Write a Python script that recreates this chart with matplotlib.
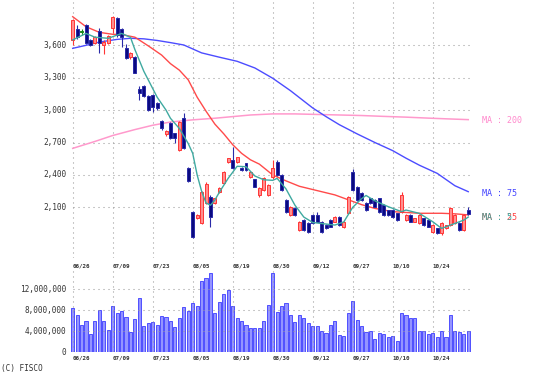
import matplotlib
matplotlib.use('Agg')
import matplotlib.pyplot as plt
import matplotlib.transforms as mtransforms

# daily OHLC, 06/26 .. early Nov (90 sessions)
opens = [3650, 3750, 3725, 3790, 3650, 3620, 3735, 3600, 3625, 3760,
         3850, 3750, 3575, 3495, 3490, 3195, 3220, 3130, 3140, 3065,
         2895, 2780, 2880, 2785, 2630, 2925, 2460, 2060, 2000, 1955,
         2140, 2200, 2140, 2242, 2322, 2522, 2538, 2522, 2461, 2507,
         2383, 2359, 2214, 2260, 2214, 2383, 2522, 2399, 2168, 2029,
         2091, 1890, 1982, 1951, 2029, 2029, 1967, 1936, 1982, 1967,
         2013, 1920, 2044, 2430, 2291, 2230, 2137, 2183, 2168, 2183,
         2121, 2075, 2075, 2044, 2059, 1982, 2029, 1967, 1951, 1998,
         1982, 1874, 1905, 1859, 1905, 1936, 1951, 1951, 1890, 2075]
highs = [3845, 3790, 3750, 3800, 3660, 3690, 3760, 3645, 3700, 3875,
         3860, 3760, 3615, 3540, 3500, 3225, 3230, 3140, 3150, 3075,
         2910, 2815, 2890, 2790, 2900, 2970, 2470, 2070, 2035, 2250,
         2330, 2210, 2190, 2290, 2440, 2560, 2661, 2570, 2470, 2515,
         2440, 2365, 2285, 2380, 2315, 2538, 2535, 2410, 2175, 2115,
         2100, 1975, 1990, 1960, 2040, 2060, 1975, 1945, 1990, 2020,
         2020, 1975, 2205, 2455, 2300, 2240, 2145, 2190, 2175, 2190,
         2130, 2080, 2085, 2050, 2240, 2035, 2035, 2005, 2035, 2005,
         1990, 1945, 1910, 1960, 1940, 2100, 2035, 1960, 2035, 2100]
lows = [3600, 3655, 3700, 3610, 3590, 3610, 3530, 3520, 3615, 3710,
        3680, 3585, 3470, 3470, 3340, 3095, 3120, 2990, 2980, 3000,
        2820, 2765, 2730, 2695, 2620, 2640, 2330, 1820, 1990, 1950,
        2130, 1920, 2130, 2235, 2315, 2515, 2455, 2515, 2440, 2440,
        2375, 2285, 2200, 2250, 2205, 2360, 2390, 2250, 2050, 2020,
        2020, 1880, 1880, 1865, 1945, 1960, 1865, 1900, 1915, 1960,
        1930, 1910, 2035, 2255, 2160, 2160, 2070, 2130, 2100, 2050,
        2020, 2020, 2005, 1975, 2050, 1975, 1960, 1960, 1945, 1930,
        1915, 1865, 1850, 1840, 1895, 1930, 1945, 1880, 1880, 2030]
closes = [3830, 3675, 3725, 3625, 3600, 3680, 3620, 3630, 3685, 3860,
          3695, 3680, 3480, 3525, 3345, 3160, 3130, 3000, 3030, 3020,
          2830, 2810, 2745, 2740, 2890, 2650, 2340, 1830, 2030, 2245,
          2320, 2015, 2186, 2279, 2430, 2553, 2461, 2562, 2445, 2445,
          2430, 2291, 2276, 2368, 2306, 2464, 2399, 2260, 2059, 2106,
          2029, 1967, 1890, 1874, 1951, 1967, 1874, 1908, 1920, 2013,
          1936, 1967, 2199, 2260, 2168, 2168, 2075, 2137, 2106, 2059,
          2029, 2029, 2013, 1982, 2214, 2029, 1967, 1998, 2029, 1936,
          1920, 1936, 1859, 1951, 1936, 2091, 2029, 1890, 2029, 2040]
volume_m = [8.5, 7.1, 5.2, 6.0, 3.5, 6.0, 8.1, 6.0, 4.2, 8.8,
            7.4, 7.9, 6.8, 3.8, 6.3, 10.3, 5.0, 5.5, 5.7, 5.2,
            6.9, 6.8, 6.0, 4.8, 6.6, 8.7, 7.9, 9.4, 8.8, 13.6,
            14.1, 15.2, 7.5, 9.6, 11.1, 11.9, 8.8, 6.5, 5.9, 5.2,
            4.7, 4.6, 4.7, 5.9, 9.0, 15.2, 7.7, 8.8, 9.3, 7.2,
            5.7, 7.1, 6.6, 5.5, 5.0, 5.0, 4.0, 3.6, 5.2, 6.0,
            3.3, 3.1, 7.5, 9.8, 6.2, 5.0, 3.8, 4.0, 2.6, 3.7,
            3.4, 3.0, 3.2, 2.1, 7.4, 7.1, 6.5, 6.6, 4.0, 4.0,
            3.5, 3.7, 3.0, 4.0, 2.9, 7.1, 4.0, 3.8, 3.5, 4.0]

# moving averages read at sample sessions
ma5_x = [0, 3, 5, 8, 11, 13, 14, 16, 19, 21, 22, 24, 26, 27, 28, 29, 30, 31, 32, 33,
         35, 37, 39, 41, 43, 45, 46, 48, 50, 52, 54, 56, 59, 61, 63, 65, 66, 68, 71, 74,
         75, 78, 81, 83, 86, 88, 89]
ma5_y = [3650, 3710, 3675, 3665, 3710, 3674, 3560, 3360, 3120, 3000, 2924, 2830, 2690, 2600,
         2400, 2250, 2140, 2120, 2168, 2240, 2370, 2480, 2476, 2390, 2355, 2350, 2368, 2270,
         2120, 2010, 1960, 1950, 1936, 1965, 2100, 2180, 2210, 2160, 2106, 2060, 2075, 2044,
         1967, 1905, 1951, 1982, 2010]
ma25_x = [0, 3, 6, 9, 11, 14, 17, 20, 22, 24, 26, 28, 30, 32, 34, 36, 38, 40, 42, 45,
          48, 51, 55, 59, 62, 65, 68, 72, 78, 83, 86, 89]
ma25_y = [3865, 3772, 3720, 3702, 3700, 3675, 3595, 3510, 3430, 3370, 3280, 3120, 2990,
          2870, 2780, 2680, 2600, 2540, 2500, 2400, 2345, 2295, 2255, 2215, 2170, 2125,
          2090, 2060, 2045, 2045, 2040, 2030]
ma75_x = [0, 3, 6, 10, 13, 16, 19, 22, 25, 29, 33, 37, 41, 45, 49, 54, 57, 60, 64, 68,
          72, 75, 78, 82, 86, 89]
ma75_y = [3572, 3600, 3630, 3655, 3665, 3660, 3645, 3625, 3603, 3530, 3490, 3452, 3390,
          3295, 3180, 3020, 2940, 2865, 2780, 2700, 2625, 2555, 2490, 2415, 2300, 2245]
ma200_x = [0, 5, 9, 14, 18, 22, 27, 32, 36, 40, 45, 50, 55, 60, 65, 70, 75, 80, 85, 89]
ma200_y = [2646, 2710, 2765, 2820, 2860, 2890, 2910, 2925, 2940, 2955, 2965, 2965, 2960,
           2955, 2950, 2942, 2935, 2926, 2918, 2912]

date_labels = ['06/26', '07/09', '07/23', '08/05', '08/19', '08/30',
               '09/12', '09/27', '10/10', '10/24']
price_ticks = [2100, 2400, 2700, 3000, 3300, 3600]
vol_ticks = [0, 4, 8, 12]

W, H = 538, 382
fig = plt.figure(figsize=(W / 100, H / 100), dpi=100)


def px_axes(x0, y0, x1, y1):
    a = fig.add_axes([x0 / W, 1 - y1 / H, (x1 - x0) / W, (y1 - y0) / H])
    a.set_axis_off()
    return a


ax = px_axes(70.5, 2, 472.7, 258)
axv = px_axes(70.5, 270, 472.7, 352.3)
n = len(closes)
idx = list(range(n))
ax.set_xlim(-0.495, 90)
axv.set_xlim(-0.495, 90)
ax.set_ylim(1631, 4001)
axv.set_ylim(0, 15.68)

mono = 'DejaVu Sans Mono'
gcol = '#999999'
dots = (0, (1, 3.8))
grid_x = [9 * k for k in range(len(date_labels))]

# grids
ax.hlines(price_ticks, 0, 90, colors=gcol, lw=0.75, linestyles=dots, zorder=1)
ax.vlines(grid_x, 1631, 4001, colors=gcol, lw=0.75, linestyles=dots, zorder=1)
axv.hlines(vol_ticks[1:], 0, 90, colors=gcol, lw=0.75, linestyles=dots, zorder=3)
axv.vlines(grid_x, 0, 15.68, colors=gcol, lw=0.75, linestyles=dots, zorder=3)

# moving averages
ax.plot(ma200_x, ma200_y, color='#ff99cc', lw=1.1, zorder=2)
ax.plot(ma75_x, ma75_y, color='#4c4cff', lw=1.0, zorder=2)
ax.plot(ma25_x, ma25_y, color='#ff4a4a', lw=1.0, zorder=2)

# candles
faces, edges, bottoms, heights = [], [], [], []
for o, c in zip(opens, closes):
    if c > o:
        faces.append('#ff8f8f'); edges.append('#ff3535')
    elif c < o:
        faces.append('#0a0a80'); edges.append('#2a2aa8')
    else:
        faces.append('#1a8a1a'); edges.append('#1a8a1a')
    bottoms.append(min(o, c))
    heights.append(max(abs(c - o), 9))
ax.vlines(idx, lows, highs, colors=edges, lw=0.8, zorder=3)
ax.bar(idx, heights, bottom=bottoms, width=0.66, color=faces, edgecolor=edges,
       linewidth=0.7, zorder=4)
ax.plot(ma5_x, ma5_y, color='#3fa9a0', lw=1.0, zorder=5)

# volume
axv.bar(idx, volume_m, width=0.7, color='#9494ff', edgecolor='#4f4fff', linewidth=0.7,
        zorder=2)

# tick labels
tr_p = mtransforms.blended_transform_factory(ax.transAxes, ax.transData)
tr_v = mtransforms.blended_transform_factory(axv.transAxes, axv.transData)
for p in price_ticks:
    ax.text(-0.011, p, f'{p:,}', transform=tr_p, ha='right', va='center',
            fontsize=5.6, family=mono, color='#333333')
for v in vol_ticks:
    axv.text(-0.011, v, f'{v * 1000000:,}', transform=tr_v, ha='right', va='center',
             fontsize=5.6, family=mono, color='#333333')

tx_p = mtransforms.blended_transform_factory(ax.transData, ax.transAxes)
tx_v = mtransforms.blended_transform_factory(axv.transData, axv.transAxes)
for gx, lab in zip(grid_x, date_labels):
    ax.text(gx, -0.030, lab, transform=tx_p, ha='left', va='center', fontsize=4.2,
            family=mono, weight='bold', color='#333333')
    axv.text(gx, -0.066, lab, transform=tx_v, ha='left', va='center', fontsize=4.2,
             family=mono, weight='bold', color='#333333')

# MA labels on the right
ax.text(92, ma200_y[-1] - 10, 'MA : 200', color='#ff88cc', fontsize=6, family=mono,
        va='center', clip_on=False)
ax.text(92, ma75_y[-1] - 15, 'MA : 75', color='#4444ff', fontsize=6, family=mono,
        va='center', clip_on=False)
ax.text(92, ma25_y[-1] - 25, 'MA : 25', color='#ff4040', fontsize=6, family=mono,
        va='center', clip_on=False)
ax.text(92, ma5_y[-1] - 5, 'MA : 5', color='#3fa9a0', fontsize=6, family=mono,
        va='center', clip_on=False)

fig.text(1 / W, 1 - 369 / H, '(C) FISCO', fontsize=5.6, family=mono, color='#333333',
         va='center', ha='left')

fig.savefig('out.png', dpi=100)
